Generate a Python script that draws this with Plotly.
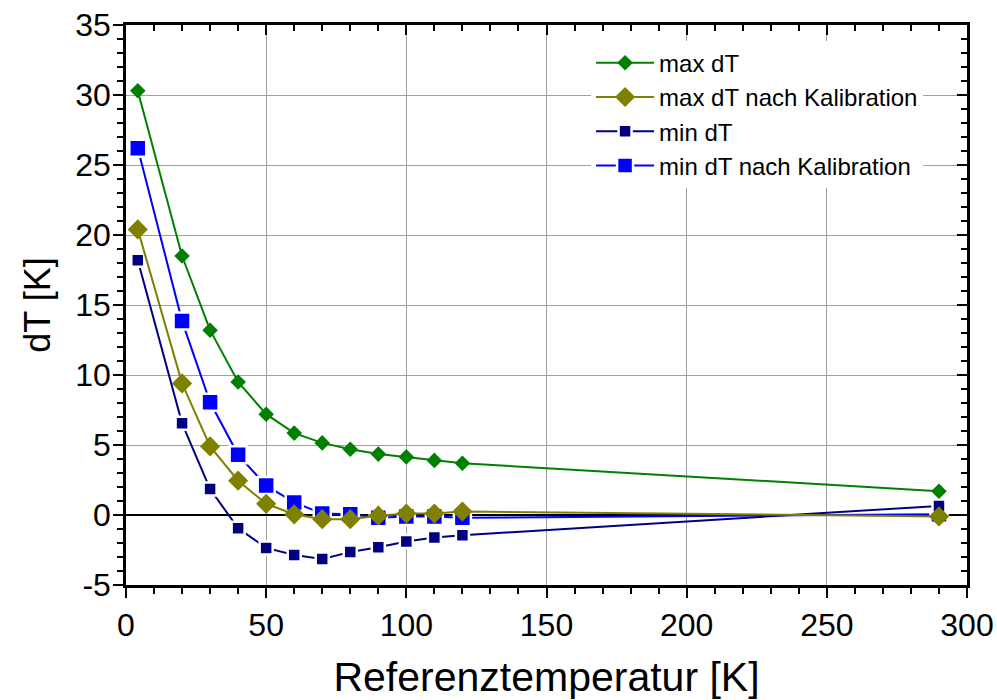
import plotly.graph_objects as go

# ---- data ----
temps = [4.2, 20, 30, 40, 50, 60, 70, 80, 90, 100, 110, 120, 290]
max_dT = [30.3, 18.5, 13.2, 9.5, 7.2, 5.85, 5.15, 4.7, 4.35, 4.15, 3.9, 3.7, 1.7]
max_dT_kal = [20.4, 9.4, 4.9, 2.45, 0.8, 0.05, -0.3, -0.3, -0.05, 0.1, 0.1, 0.25, -0.1]
min_dT = [18.2, 6.55, 1.85, -0.95, -2.35, -2.85, -3.15, -2.65, -2.3, -1.9, -1.6, -1.45, 0.65]
min_dT_kal = [26.2, 13.85, 8.05, 4.3, 2.1, 0.9, 0.1, 0.05, -0.2, -0.1, -0.1, -0.2, 0.05]

x_ticks = [0, 50, 100, 150, 200, 250, 300]
y_ticks = [-5, 0, 5, 10, 15, 20, 25, 30, 35]
y_tick_labels = ["-5", "0", "5", "10", "15", "20", "25", "30", "35"]

FONT = "Liberation Sans, Arial, sans-serif"

fig = go.Figure()

# drawing order: blue, navy, olive, green (olive diamonds cover blue squares)
fig.add_trace(go.Scatter(
    x=temps, y=min_dT_kal, name="min dT nach Kalibration", legendrank=4,
    mode="lines+markers",
    line=dict(color="#0000ff", width=2),
    marker=dict(symbol="square", size=17, color="#0000ff", line=dict(color="white", width=2.5)),
))
fig.add_trace(go.Scatter(
    x=temps, y=min_dT, name="min dT", legendrank=3,
    mode="lines+markers",
    line=dict(color="#000080", width=2),
    marker=dict(symbol="square", size=13, color="#000080", line=dict(color="white", width=2.5)),
))
fig.add_trace(go.Scatter(
    x=temps, y=max_dT_kal, name="max dT nach Kalibration", legendrank=2,
    mode="lines+markers",
    line=dict(color="#808000", width=2),
    marker=dict(symbol="diamond", size=15.5, color="#808000"),
))
fig.add_trace(go.Scatter(
    x=temps, y=max_dT, name="max dT", legendrank=1,
    mode="lines+markers",
    line=dict(color="#008000", width=2),
    marker=dict(symbol="diamond", size=12, color="#008000"),
))
# empty trace to attach the mirrored (top/right) axes
fig.add_trace(go.Scatter(x=[None], y=[None], xaxis="x2", yaxis="y2",
                         showlegend=False, hoverinfo="skip"))

axis_common = dict(
    showline=True, linecolor="black", linewidth=2.5,
    tickcolor="black", tickwidth=2, ticklen=10, automargin=False,
)

fig.update_layout(
    width=997, height=700,
    margin=dict(l=126, r=30, t=25, b=115),
    paper_bgcolor="white", plot_bgcolor="white",
    font=dict(family=FONT, color="black"),
    showlegend=True,
    legend=dict(
        x=0.553, y=0.972, xanchor="left", yanchor="top",
        bgcolor="white", borderwidth=0,
        font=dict(family=FONT, size=24, color="black"),
        itemwidth=58, tracegroupgap=0,
    ),
    xaxis=dict(
        range=[0, 300], tickmode="array", tickvals=x_ticks,
        ticks="outside", tickfont=dict(family=FONT, size=32),
        showgrid=True, gridcolor="#a0a0a0", gridwidth=1,
        zeroline=False,
        minor=dict(ticks="outside", dtick=10, ticklen=6, tickwidth=2, tickcolor="black", showgrid=False),
        title=dict(text="Referenztemperatur [K]", font=dict(family=FONT, size=41), standoff=22),
        **axis_common,
    ),
    yaxis=dict(
        range=[-5, 35], tickmode="array", tickvals=y_ticks, ticktext=y_tick_labels,
        ticks="outside", tickfont=dict(family=FONT, size=32), ticklabelstandoff=-4,
        showgrid=True, gridcolor="#a0a0a0", gridwidth=1,
        zeroline=True, zerolinecolor="black", zerolinewidth=2,
        minor=dict(ticks="outside", dtick=1, ticklen=6, tickwidth=2, tickcolor="black", showgrid=False),
        title=dict(text="dT [K]", font=dict(family=FONT, size=36), standoff=14),
        **axis_common,
    ),
    xaxis2=dict(
        overlaying="x", side="top", anchor="y2", range=[0, 300],
        tickmode="array", tickvals=x_ticks, ticks="inside", showticklabels=False,
        showgrid=False, zeroline=False,
        minor=dict(ticks="inside", dtick=10, ticklen=6, tickwidth=2, tickcolor="black"),
        **axis_common,
    ),
    yaxis2=dict(
        overlaying="y", side="right", anchor="x2", range=[-5, 35],
        tickmode="array", tickvals=y_ticks, ticks="inside", showticklabels=False,
        showgrid=False, zeroline=False,
        minor=dict(ticks="inside", dtick=1, ticklen=6, tickwidth=2, tickcolor="black"),
        **axis_common,
    ),
)

fig.write_html("out.html")
